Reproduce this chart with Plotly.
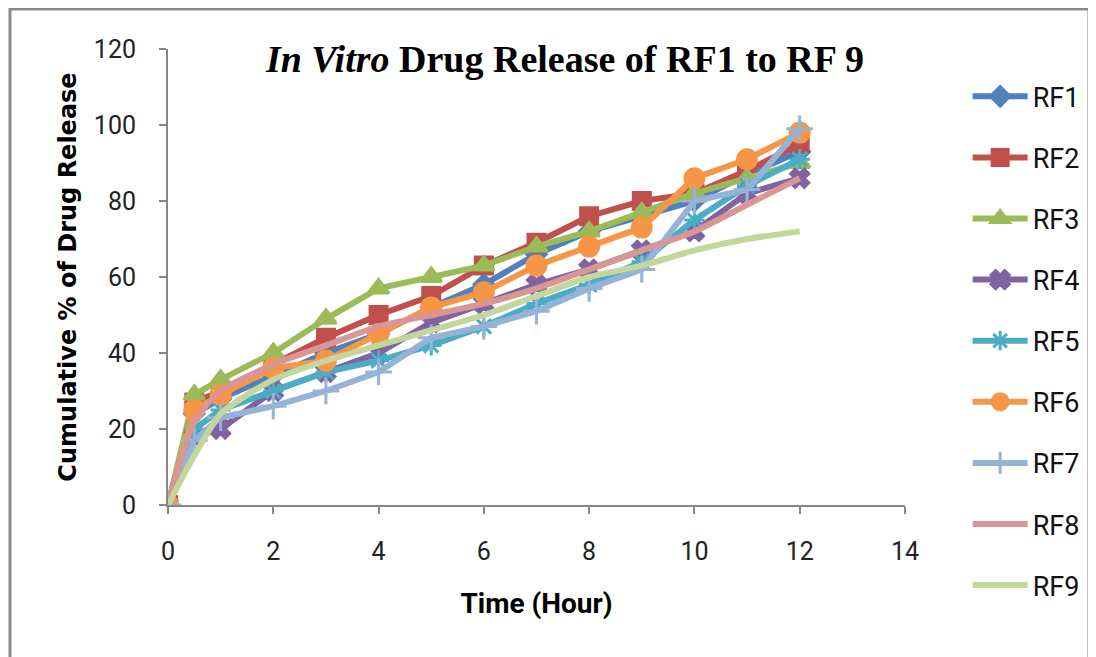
import plotly.graph_objects as go

time_h = [0, 0.5, 1, 2, 3, 4, 5, 6, 7, 8, 9, 10, 11, 12]

rf1 = [0, 24, 28, 34, 40, 45, 52, 58, 66, 72, 76, 80, 87, 93]
rf2 = [0, 27, 30, 37, 44, 50, 55, 63, 69, 76, 80, 82, 88, 95]
rf3 = [0, 29, 33, 40, 49, 57, 60, 63, 68, 72, 77, 82, 86, 90]
rf4 = [0, 18, 20, 30, 35, 40, 48, 53, 58, 62, 67, 72, 82, 86]
rf5 = [0, 20, 25, 30, 35, 38, 42, 47, 53, 58, 64, 75, 84, 91]
rf6 = [0, 25, 29, 36, 38, 45, 52, 56, 63, 68, 73, 86, 91, 98]
rf7 = [0, 17, 23, 26, 30, 35, 44, 47, 51, 57, 62, 80, 83, 99]
rf8 = [0, 22, 30, 37, 42, 47, 50, 53, 57, 62, 67, 72, 79, 86]
rf9 = [0, 13, 24, 33, 38, 42, 46, 50, 55, 60, 63, 67, 70, 72]

series_names = ["RF1", "RF2", "RF3", "RF4", "RF5", "RF6", "RF7", "RF8", "RF9"]
series_values = [rf1, rf2, rf3, rf4, rf5, rf6, rf7, rf8, rf9]
colors = ["#4F81BD", "#C0504D", "#9BBB59", "#8064A2", "#4BACC6",
          "#F79646", "#95B3D7", "#D99694", "#C3D69B"]
symbols = ["diamond", "square", "triangle-up", "x", "asterisk-open",
           "circle", "cross-thin-open", None, None]
msizes = [15, 17, 18, 16, 17, 19, 19, 0, 0]

x_ticks = [0, 2, 4, 6, 8, 10, 12, 14]
y_ticks = [0, 20, 40, 60, 80, 100, 120]

fig = go.Figure()
for i, (name, vals) in enumerate(zip(series_names, series_values)):
    sym = symbols[i]
    mode = "lines+markers" if sym else "lines"
    marker = dict(color=colors[i], size=msizes[i], symbol=sym,
                  line=dict(color=colors[i], width=3)) if sym else None
    fig.add_trace(go.Scatter(
        x=time_h, y=vals, name=name, mode=mode,
        line=dict(color=colors[i], width=6,
                  shape="spline" if not sym else "linear", smoothing=0.6),
        marker=marker, legendgroup=name,
    ))

axis_font = dict(family="Roboto, Arial", size=25, color="#222")

# page body has an 8px margin; plot area targets screen x 168..905, y 49..505
fig.update_layout(
    width=1096, height=657,
    paper_bgcolor="white", plot_bgcolor="white",
    margin=dict(l=160, r=199, t=41, b=160, autoexpand=False),
    title=dict(
        text="<b><i>In Vitro</i> Drug Release of RF1 to RF 9</b>",
        font=dict(family="Liberation Serif, Times New Roman, serif", size=38, color="black"),
        x=557 / 1096, xanchor="center", y=1 - 51 / 657, yanchor="middle",
    ),
    legend=dict(
        x=1.085, xanchor="left", y=0.949, yanchor="top",
        font=dict(family="Roboto, Arial", size=27, color="#111"),
        traceorder="grouped", tracegroupgap=23, itemwidth=55,
        bgcolor="rgba(0,0,0,0)", maxheight=640,
    ),
    xaxis=dict(
        range=[0, 14], tickvals=x_ticks, showgrid=False, zeroline=False,
        showline=True, linecolor="#868686", linewidth=2, automargin=False,
        ticks="outside", ticklen=7, tickcolor="#868686", tickwidth=2,
        tickfont=axis_font, ticklabelstandoff=16,
        title=dict(text="<b>Time (Hour)</b>",
                   font=dict(family="Roboto, Arial", size=28, color="black"),
                   standoff=28),
    ),
    yaxis=dict(
        range=[0, 120], tickvals=y_ticks, showgrid=False, zeroline=False,
        showline=True, linecolor="#868686", linewidth=2, automargin=False,
        ticks="outside", ticklen=7, tickcolor="#868686", tickwidth=2,
        tickfont=axis_font, ticklabelstandoff=18,
        title=dict(text="<b>Cumulative % of Drug Release</b>",
                   font=dict(family="DejaVu Sans, Verdana, Arial", size=24, color="black"),
                   standoff=10),
    ),
    shapes=[dict(type="rect", xref="paper", yref="paper",
                 x0=(10 - 168) / 737, x1=(1089 - 168) / 737,
                 y0=(505 - 700) / 456, y1=(505 - 9) / 456,
                 line=dict(color="#8a8a8a", width=3), layer="below")],
)

fig.write_html("out.html")
